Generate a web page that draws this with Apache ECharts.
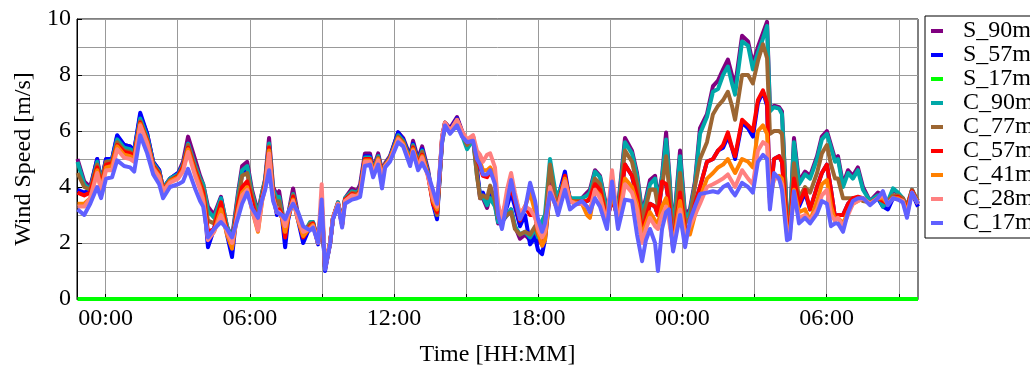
<!DOCTYPE html>
<html><head><meta charset="utf-8">
<script src="https://cdn.jsdelivr.net/npm/echarts@6/dist/echarts.min.js"></script>
<style>html,body{margin:0;padding:0;background:#fff}#c{width:1030px;height:376px}</style>
</head><body><div id="c"></div>
<script>
// time in hours from 00:00 of the first day
const hours = [-1.17,-0.89,-0.64,-0.35,-0.19,0.02,0.27,0.48,0.77,1.02,
1.19,1.44,1.73,1.98,2.23,2.39,2.68,3.02,3.22,3.43,
3.72,3.93,4.06,4.26,4.51,4.80,5.05,5.26,5.51,5.68,
5.89,6.09,6.34,6.51,6.64,6.80,6.97,7.13,7.22,7.34,
7.47,7.59,7.80,8.01,8.22,8.51,8.63,8.84,8.99,9.13,
9.34,9.46,9.67,9.84,9.96,10.25,10.46,10.59,10.79,11.00,
11.13,11.34,11.50,11.63,11.83,12.17,12.38,12.67,12.79,13.00,
13.17,13.42,13.62,13.79,14.00,14.12,14.33,14.62,14.83,15.04,
15.29,15.45,15.58,15.70,15.87,16.00,16.20,16.33,16.49,16.70,
16.87,17.03,17.24,17.45,17.66,17.87,17.99,18.16,18.28,18.49,
18.70,18.82,19.11,19.32,19.53,19.82,20.03,20.15,20.36,20.57,
20.86,21.07,21.32,21.61,21.90,22.11,22.32,22.48,22.65,22.86,
22.98,23.15,23.32,23.44,23.61,23.90,24.11,24.31,24.52,24.73,
25.02,25.27,25.48,25.69,25.89,26.06,26.19,26.48,26.73,26.93,
27.14,27.35,27.52,27.64,27.81,28.02,28.14,28.35,28.47,28.64,
28.85,29.10,29.31,29.60,29.80,30.01,30.18,30.35,30.47,30.68,
30.89,31.09,31.30,31.51,31.80,32.13,32.34,32.55,32.76,32.97,
33.17,33.34,33.55,33.80];

const S_90m = [5.0,4.2,4.0,5.0,4.2,5.0,5.0,5.8,5.5,5.45,
5.3,6.55,5.9,4.9,4.6,3.95,4.3,4.5,4.9,5.8,
5.0,4.4,4.1,3.3,3.0,3.65,2.6,2.2,3.8,4.75,
4.9,3.9,3.1,3.8,4.3,5.75,4.0,3.7,3.85,3.2,
2.3,3.0,3.95,3.0,2.3,2.7,2.75,2.0,3.3,1.1,
2.0,2.9,3.45,2.7,3.6,3.95,3.85,4.1,5.2,5.2,
4.65,5.2,4.6,4.85,5.1,5.95,5.75,5.1,5.65,5.0,
5.45,4.6,3.5,3.0,5.8,6.3,6.1,6.5,6.0,5.55,
5.8,4.6,3.6,3.6,3.25,3.7,3.4,2.7,2.75,3.0,
3.2,2.6,2.15,2.3,2.1,2.3,2.0,2.1,2.5,4.6,
3.7,3.6,4.3,3.6,3.5,3.6,3.8,3.9,4.6,4.4,
3.2,3.9,3.3,5.75,5.3,4.5,3.1,3.6,4.25,4.4,
3.6,4.4,5.95,4.6,2.4,5.3,3.0,3.2,4.2,6.1,
6.6,7.6,7.8,8.2,8.55,8.0,7.6,9.4,9.2,8.4,
9.0,9.5,9.9,6.8,6.9,6.85,6.7,2.9,2.7,5.75,
4.2,4.55,4.4,5.1,5.8,6.0,5.5,5.0,5.1,4.1,
4.6,4.4,4.7,4.0,3.5,3.8,3.7,3.4,3.9,3.75,
3.6,3.3,3.9,3.4];

const S_57m = [3.9,3.8,3.9,5.0,4.1,5.0,5.0,5.85,5.5,5.45,
5.3,6.65,5.9,4.9,4.6,3.95,4.3,4.5,4.8,5.55,
4.7,4.2,3.8,1.85,2.5,3.6,2.3,1.5,3.5,4.5,
4.6,3.6,2.8,3.7,4.2,5.5,3.7,3.0,3.1,2.9,
1.85,2.8,3.6,2.8,2.0,2.6,2.7,1.95,3.2,1.0,
2.0,2.85,3.4,2.65,3.55,3.8,3.75,3.9,5.1,5.1,
4.6,5.1,4.5,4.8,5.05,5.95,5.7,5.05,5.55,4.9,
5.35,4.5,3.4,2.85,5.7,6.3,6.05,6.45,5.95,5.5,
5.75,4.6,3.7,3.8,3.4,3.8,3.5,2.8,2.8,3.3,
3.8,3.3,2.6,3.0,1.95,2.2,1.75,1.6,2.1,3.8,
3.5,3.6,4.55,3.5,3.4,3.4,3.5,3.55,4.1,3.9,
2.8,3.6,2.9,4.8,4.4,3.6,2.3,2.8,3.4,3.3,
3.0,4.1,4.1,3.4,1.8,3.7,2.5,2.4,3.4,4.0,
4.9,5.0,5.3,5.4,5.8,5.4,5.0,6.3,6.1,5.8,
7.0,7.4,6.9,3.6,5.0,5.1,4.9,2.6,2.5,4.3,
3.3,3.8,3.2,4.0,4.5,4.8,3.9,2.9,3.0,3.0,
3.4,3.6,3.6,3.6,3.4,3.6,3.3,3.2,3.6,3.6,
3.5,3.1,3.8,3.3];

const S_17m = [0,0,0,0,0,0,0,0,0,0, 0,0,0,0,0,0,0,0,0,0,
0,0,0,0,0,0,0,0,0,0, 0,0,0,0,0,0,0,0,0,0,
0,0,0,0,0,0,0,0,0,0, 0,0,0,0,0,0,0,0,0,0,
0,0,0,0,0,0,0,0,0,0, 0,0,0,0,0,0,0,0,0,0,
0,0,0,0,0,0,0,0,0,0, 0,0,0,0,0,0,0,0,0,0,
0,0,0,0,0,0,0,0,0,0, 0,0,0,0,0,0,0,0,0,0,
0,0,0,0,0,0,0,0,0,0, 0,0,0,0,0,0,0,0,0,0,
0,0,0,0,0,0,0,0,0,0, 0,0,0,0,0,0,0,0,0,0,
0,0,0,0,0,0,0,0,0,0, 0,0,0,0];

const C_90m = [4.9,4.1,3.9,4.9,4.2,4.9,4.95,5.7,5.4,5.35,
5.25,6.45,5.8,4.85,4.55,3.95,4.3,4.45,4.8,5.55,
4.8,4.3,4.1,3.15,2.9,3.6,2.6,2.1,3.7,4.6,
4.75,3.8,3.0,3.8,4.25,5.55,3.9,3.6,3.65,3.1,
2.3,3.0,3.75,2.95,2.3,2.75,2.75,2.05,3.3,1.1,
2.0,2.9,3.45,2.7,3.6,3.85,3.8,3.95,5.05,5.05,
4.6,5.1,4.5,4.8,5.05,5.85,5.65,5.0,5.5,4.9,
5.3,4.5,3.5,3.0,5.6,6.15,5.95,6.3,5.85,5.35,
5.7,4.4,3.7,3.65,3.35,3.6,3.3,2.75,2.8,3.0,
3.2,2.6,2.3,2.4,2.2,2.5,2.2,2.8,3.0,5.0,
3.9,3.7,4.3,3.6,3.6,3.6,3.7,3.8,4.55,4.35,
3.1,3.9,3.2,5.6,5.2,4.4,3.0,3.5,4.1,4.3,
3.5,4.3,5.7,4.5,2.3,5.1,2.9,3.1,4.1,5.9,
6.5,7.4,7.5,8.0,8.3,7.7,7.3,9.2,9.05,8.2,
8.8,9.3,9.75,6.7,6.85,6.8,6.6,2.9,2.7,5.6,
4.1,4.45,4.3,5.0,5.7,5.9,5.4,4.9,5.0,4.0,
4.5,4.3,4.6,3.9,3.5,3.7,3.3,3.5,3.95,3.8,
3.6,3.2,3.9,3.4];

const C_77m = [4.5,4.0,3.9,4.8,4.1,4.9,4.9,5.6,5.3,5.25,
5.15,6.35,5.7,4.8,4.5,3.9,4.25,4.4,4.75,5.5,
4.7,4.2,3.9,2.8,2.7,3.45,2.5,2.0,3.5,4.4,
4.5,3.7,2.8,3.7,4.2,5.45,3.8,3.4,3.5,3.0,
2.3,2.9,3.7,2.9,2.3,2.7,2.7,2.0,3.3,1.1,
2.0,2.9,3.4,2.7,3.55,3.8,3.75,3.9,5.0,5.0,
4.55,5.05,4.5,4.8,5.0,5.8,5.6,4.95,5.45,4.85,
5.25,4.45,3.5,3.0,5.6,6.2,6.0,6.35,5.9,5.5,
5.75,4.4,3.6,3.7,3.6,4.05,3.5,2.9,2.9,3.0,
3.1,2.5,2.3,2.4,2.3,2.6,2.3,2.3,2.7,4.8,
3.6,3.5,4.2,3.5,3.5,3.5,3.5,3.6,4.3,4.1,
2.9,3.7,3.0,5.3,4.9,4.1,2.8,3.3,3.9,3.9,
3.3,4.0,5.1,4.0,2.1,4.5,2.7,2.9,4.0,5.0,
5.6,6.6,6.9,7.1,7.4,6.9,6.4,8.0,8.0,7.7,
8.5,9.1,8.6,5.9,6.0,6.0,5.9,2.8,2.6,4.85,
3.6,4.0,3.8,4.5,5.2,5.5,4.8,4.3,4.3,3.6,
3.6,3.6,3.6,3.5,3.45,3.6,3.6,3.5,3.7,3.7,
3.6,3.3,3.9,3.5];

const C_57m = [3.8,3.7,3.8,4.7,4.0,4.8,4.85,5.5,5.25,5.2,
5.1,6.3,5.65,4.75,4.45,3.9,4.2,4.4,4.7,5.4,
4.6,4.1,3.8,2.4,2.5,3.45,2.4,1.9,3.4,4.0,
4.2,3.5,2.6,3.6,4.1,5.4,3.7,3.1,3.2,3.0,
2.2,2.9,3.65,2.85,2.2,2.6,2.7,2.0,3.4,1.1,
2.0,2.9,3.4,2.65,3.55,3.75,3.7,3.85,5.0,5.0,
4.5,5.0,4.45,4.75,5.0,5.75,5.55,4.9,5.4,4.8,
5.15,4.4,3.4,3.1,5.7,6.25,6.0,6.35,5.9,5.6,
5.75,5.0,4.7,4.4,4.35,4.55,4.2,3.1,2.9,3.6,
3.95,3.5,2.8,3.3,3.0,3.0,2.4,2.0,2.2,4.0,
3.4,3.3,4.4,3.5,3.45,3.45,3.5,3.6,4.1,3.9,
2.8,3.6,2.9,4.8,4.4,3.7,2.4,2.9,3.4,3.3,
3.0,4.2,4.1,3.4,1.9,3.8,2.5,2.5,3.4,4.0,
4.9,5.0,5.3,5.5,5.95,5.4,5.1,6.4,6.2,6.0,
7.1,7.45,7.0,3.4,5.0,5.1,4.9,2.6,2.5,4.3,
3.4,3.9,3.2,4.0,4.5,4.8,3.9,2.9,3.0,3.0,
3.4,3.6,3.65,3.6,3.4,3.6,3.5,3.4,3.6,3.65,
3.5,3.2,3.85,3.4];

const C_41m = [3.4,3.4,3.6,4.6,3.9,4.7,4.75,5.45,5.15,5.1,
5.0,6.25,5.6,4.7,4.4,3.85,4.2,4.35,4.6,5.35,
4.5,4.0,3.6,2.2,2.4,3.2,2.3,1.8,3.2,3.8,
4.0,3.2,2.4,3.5,4.0,5.3,3.6,3.1,3.1,2.9,
2.4,2.9,3.55,2.8,2.25,2.55,2.65,2.0,3.6,1.1,
2.0,2.9,3.4,2.65,3.5,3.7,3.7,3.8,4.95,4.95,
4.5,5.0,4.4,4.75,5.0,5.75,5.55,4.9,5.35,4.75,
5.1,4.4,3.5,3.2,5.75,6.3,6.0,6.4,5.95,5.65,
5.8,5.1,4.9,4.6,4.6,4.7,4.4,3.3,2.8,3.7,
4.1,3.7,3.0,3.3,3.8,3.1,2.4,1.9,2.1,3.9,
3.4,3.2,4.3,3.5,3.45,3.4,3.0,2.9,3.9,3.7,
2.7,3.8,2.8,4.3,4.0,3.4,2.2,2.7,3.1,2.8,
2.7,3.3,3.6,3.0,1.9,3.5,2.3,2.3,3.0,3.6,
4.3,4.5,4.7,4.8,5.0,4.7,4.5,5.0,4.9,4.7,
6.0,6.2,5.9,3.6,4.3,4.4,4.3,2.4,2.4,3.9,
3.1,3.2,2.8,3.5,4.1,4.25,3.3,2.8,2.9,2.7,
3.1,3.4,3.5,3.6,3.4,3.6,3.6,3.4,3.6,3.6,
3.5,3.1,3.8,3.4];

const C_28m = [3.3,3.3,3.6,4.5,3.9,4.6,4.6,5.35,5.05,5.0,
4.9,6.2,5.55,4.65,4.35,3.85,4.15,4.3,4.55,5.25,
4.4,3.9,3.5,2.1,2.4,3.0,2.4,2.0,3.1,3.7,
3.9,3.2,2.45,3.5,4.0,5.2,3.6,3.1,3.1,2.95,
2.6,3.0,3.5,2.85,2.4,2.5,2.6,2.0,4.1,1.1,
2.0,2.9,3.4,2.6,3.5,3.7,3.65,3.8,4.9,4.9,
4.45,4.95,4.3,4.75,4.95,5.7,5.5,4.85,5.3,4.7,
5.05,4.35,3.6,3.3,5.8,6.3,6.0,6.4,6.0,5.7,
5.85,5.3,5.15,4.9,5.15,5.2,4.7,3.4,2.8,3.9,
4.5,3.8,3.0,3.3,3.2,2.9,2.5,2.2,2.4,4.0,
3.4,3.3,4.2,3.5,3.4,3.4,3.3,3.2,3.9,3.6,
2.7,4.6,2.6,4.1,3.8,3.2,2.0,2.5,2.9,2.6,
2.5,3.0,3.3,2.8,1.9,3.2,2.2,2.6,3.0,3.4,
4.0,4.1,4.2,4.3,4.45,4.2,4.0,4.6,4.3,4.1,
5.3,5.6,5.5,3.6,4.3,4.3,4.1,2.3,2.3,3.7,
2.9,3.0,2.8,3.2,3.7,3.9,3.0,2.8,2.9,2.6,
3.0,3.4,3.5,3.6,3.4,3.6,3.7,3.4,3.6,3.55,
3.5,3.0,3.8,3.4];

const C_17m = [3.2,3.0,3.4,4.0,3.6,4.3,4.35,4.95,4.75,4.7,
4.55,5.85,5.2,4.45,4.1,3.6,4.0,4.1,4.2,4.65,
3.95,3.5,3.3,2.2,2.5,2.75,2.5,2.2,2.9,3.4,
3.8,3.25,2.9,3.55,3.9,4.6,3.5,3.1,3.05,3.0,
2.85,3.1,3.4,3.1,2.6,2.45,2.55,2.0,3.55,1.05,
1.95,2.85,3.35,2.55,3.4,3.55,3.6,3.65,4.75,4.8,
4.35,4.8,3.95,4.7,4.9,5.6,5.45,4.75,5.25,4.6,
4.85,4.45,3.9,3.4,5.6,6.2,5.9,6.2,5.8,5.6,
5.65,5.0,4.8,4.45,4.45,4.6,4.1,3.0,2.5,3.45,
4.25,3.6,2.85,3.2,4.15,3.5,2.85,2.4,2.7,3.8,
3.4,3.0,3.9,3.2,3.35,3.5,3.3,3.1,3.6,3.3,
2.5,4.2,2.5,3.55,3.5,2.3,1.35,2.1,2.5,2.0,
1.0,2.5,3.1,3.2,1.7,3.0,1.85,2.8,3.3,3.75,
3.8,3.85,3.8,4.0,4.1,3.85,3.7,4.15,4.0,3.8,
4.9,5.15,5.0,3.2,4.5,4.3,3.9,2.1,2.15,3.85,
2.7,2.9,2.7,3.05,3.5,3.4,2.6,2.7,2.7,2.4,
3.1,3.5,3.6,3.6,3.35,3.6,3.85,3.35,3.6,3.55,
3.45,2.9,3.8,3.4];

const seriesNames = ['S_90m','S_57m','S_17m','C_90m','C_77m','C_57m','C_41m','C_28m','C_17m'];
const seriesValues = [S_90m,S_57m,S_17m,C_90m,C_77m,C_57m,C_41m,C_28m,C_17m];
const seriesColors = ['#800080','#0000ff','#00ff00','#00a8a8','#9c6632','#ff0000','#ff8000','#ff8080','#6060ff'];
const xTickHours = [0,3,6,9,12,15,18,21,24,27,30,33];
const xLabelHours = [0,6,12,18,24,30];

const FONT = 'Liberation Serif';
const chart = echarts.init(document.getElementById('c'), null, {renderer:'canvas'});
function hhmm(v){
  let h = ((Math.round(v*60)) % 1440 + 1440) % 1440;
  const hh = Math.floor(h/60), mm = h%60;
  return String(hh).padStart(2,'0') + ':' + String(mm).padStart(2,'0');
}
chart.setOption({
  animation:false,
  backgroundColor:'#fff',
  grid:{left:77, right:112, top:19, bottom:77, show:true, borderColor:'#000', borderWidth:1, backgroundColor:'#fff'},
  legend:{
    data:seriesNames, orient:'vertical', left:925, top:16,
    icon:'rect', itemWidth:12, itemHeight:4, itemGap:0,
    padding:[3,30,3,6], borderColor:'#000', borderWidth:1,
    textStyle:{fontFamily:FONT, fontSize:24, color:'#000', lineHeight:24, padding:[0,0,0,15]}
  },
  xAxis:{
    type:'value', min:-1.19, max:33.8,
    name:'Time [HH:MM]', nameLocation:'middle', nameGap:44,
    nameTextStyle:{fontFamily:FONT, fontSize:24, color:'#000'},
    axisLine:{show:true, onZero:false, lineStyle:{color:'#000', width:1}},
    axisTick:{show:true, inside:true, length:5, lineStyle:{color:'#000'}, customValues:xTickHours},
    axisLabel:{customValues:xLabelHours, formatter:hhmm, fontFamily:FONT, fontSize:24, color:'#000', margin:8},
    splitLine:{show:true, lineStyle:{color:'#999', width:1}}
  },
  yAxis:{
    type:'value', min:0, max:10, interval:2,
    name:'Wind Speed [m/s]', nameLocation:'middle', nameGap:40,
    nameTextStyle:{fontFamily:FONT, fontSize:24, color:'#000'},
    axisLine:{show:true, onZero:false, lineStyle:{color:'#000', width:1}},
    axisTick:{show:true, inside:true, length:5, lineStyle:{color:'#000'}},
    axisLabel:{fontFamily:FONT, fontSize:24, color:'#000', margin:6},
    splitLine:{show:true, lineStyle:{color:'#999', width:1}},
    minorTick:{show:false, splitNumber:2},
    minorSplitLine:{show:true, lineStyle:{color:'#999', width:1}}
  },
  series: seriesNames.map((name, k) => ({
    name, type:'line', showSymbol:false, symbol:'none',
    color: seriesColors[k],
    lineStyle:{width:4, color:seriesColors[k], join:'round'},
    data: hours.map((h,i) => [h, seriesValues[k][i]])
  }))
});
</script></body></html>
